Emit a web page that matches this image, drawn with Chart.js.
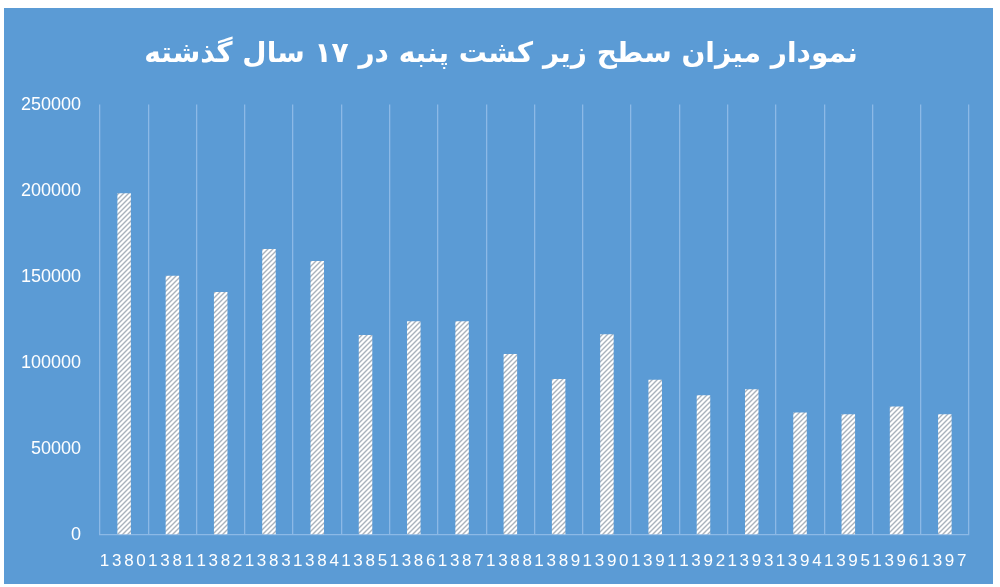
<!DOCTYPE html>
<html>
<head>
<meta charset="utf-8">
<script src="https://cdn.jsdelivr.net/npm/chart.js@4"></script>
<style>
  html, body { margin: 0; padding: 0; background: #ffffff; }
  #box {
    position: absolute; left: 4px; top: 8px;
    width: 989px; height: 576px;
    background: #5b9bd5;
  }
  canvas { display: block; }
</style>
</head>
<body>
<div id="box"><canvas id="cadre" width="989" height="576"></canvas></div>
<script>
const titleText = "نمودار میزان سطح زیر کشت پنبه در ۱۷ سال گذشته";
const years = ["1380", "1381", "1382", "1383", "1384", "1385", "1386", "1387", "1388",
  "1389", "1390", "1391", "1392", "1393", "1394", "1395", "1396", "1397"];
const areas = [198500, 150500, 141000, 166000, 159000, 116000, 124000, 124000, 105000,
  90500, 116500, 90000, 81000, 84500, 71000, 70000, 74500, 70000];
const yMax = 250000;
const yStep = 50000;

// hatched fill like the excel pattern
function hatch() {
  const c = document.createElement("canvas");
  c.width = 5;
  c.height = 5;
  const g = c.getContext("2d");
  g.fillStyle = "#ffffff";
  g.fillRect(0, 0, 5, 5);
  g.strokeStyle = "#aab3bd";
  g.lineWidth = 1.4;
  g.beginPath();
  g.moveTo(0, 5); g.lineTo(5, 0);
  g.moveTo(-1, 1); g.lineTo(1, -1);
  g.moveTo(4, 6); g.lineTo(6, 4);
  g.stroke();
  return g.createPattern(c, "repeat");
}

// x labels are spread out digit by digit in the original
const spacedTicks = {
  id: "spacedTicks",
  afterUpdate(chart) {
    const sx = chart.scales.x;
    if (sx._spaced) return;
    const orig = sx.drawLabels;
    sx.drawLabels = function (area) {
      this.ctx.save();
      this.ctx.letterSpacing = "2.7px";
      orig.call(this, area);
      this.ctx.restore();
    };
    sx._spaced = true;
  }
};

const gridColor = "#8cb9e6";
const ctx = document.getElementById("cadre").getContext("2d");

new Chart(ctx, {
  type: "bar",
  data: {
    labels: years,
    datasets: [{
      data: areas,
      backgroundColor: hatch(),
      borderWidth: 0,
      barPercentage: 0.28,
      categoryPercentage: 1
    }]
  },
  options: {
    responsive: false,
    animation: false,
    layout: { padding: { left: 5, right: 0, top: 0, bottom: -5 } },
    plugins: {
      legend: { display: false },
      tooltip: { enabled: false },
      title: {
        display: true,
        text: titleText,
        color: "#ffffff",
        font: { family: "DejaVu Sans", size: 28, weight: "bold", lineHeight: 1.2 },
        padding: { top: 30, bottom: 33 }
      }
    },
    scales: {
      x: {
        grid: { color: gridColor, lineWidth: 1.3, drawTicks: false, offset: true },
        border: { color: gridColor, width: 1.3 },
        ticks: {
          color: "#ffffff",
          font: { family: "Liberation Sans", size: 17 },
          padding: 17,
          maxRotation: 0,
          autoSkip: false
        }
      },
      y: {
        min: 0,
        max: yMax,
        grid: { display: false, drawTicks: false },
        border: { display: false },
        afterFit(scale) { scale.width = 91; },
        ticks: {
          stepSize: yStep,
          color: "#ffffff",
          font: { family: "Liberation Sans", size: 18 },
          padding: 19,
          callback: (v) => String(v)
        }
      },
      // empty strip on the right so the plot ends where the original does
      side: {
        type: "linear",
        position: "right",
        grid: { display: false, drawTicks: false },
        border: { display: false },
        ticks: { display: false },
        afterFit(scale) { scale.width = 24; }
      }
    }
  },
  plugins: [spacedTicks]
});
</script>
</body>
</html>
